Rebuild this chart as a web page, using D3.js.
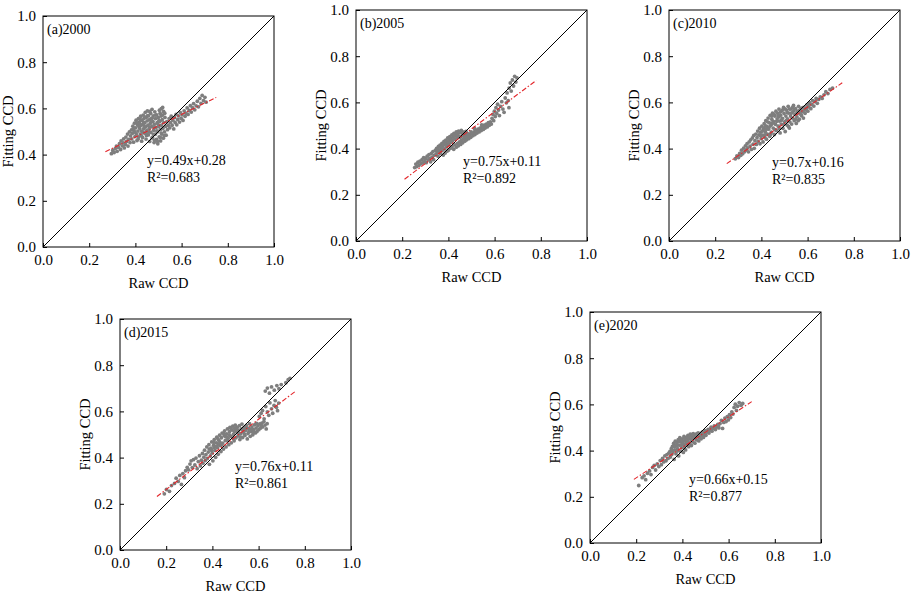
<!DOCTYPE html>
<html>
<head>
<meta charset="utf-8">
<script src="https://cdn.jsdelivr.net/npm/d3@7/dist/d3.min.js"></script>
<style>
  html, body { margin: 0; padding: 0; background: #fff; }
  svg { display: block; }
  text { font-family: "Liberation Serif", "Times New Roman", serif; fill: #000; }
</style>
</head>
<body>
<svg id="chart" width="913" height="594"></svg>
<script>
// ---------------- DATA ----------------
const panelLabels = ["(a)2000", "(b)2005", "(c)2010", "(d)2015", "(e)2020"];
const tickValues = [0, 0.2, 0.4, 0.6, 0.8, 1.0];
const xTitle = "Raw CCD";
const yTitle = "Fitting CCD";
const slopes = [0.49, 0.75, 0.7, 0.76, 0.66];
const intercepts = [0.28, 0.11, 0.16, 0.11, 0.15];
const equations = ["y=0.49x+0.28", "y=0.75x+0.11", "y=0.7x+0.16", "y=0.76x+0.11", "y=0.66x+0.15"];
const r2Labels = ["R\u00B2=0.683", "R\u00B2=0.892", "R\u00B2=0.835", "R\u00B2=0.861", "R\u00B2=0.877"];
const fitRanges = [[0.27, 0.75], [0.21, 0.78], [0.25, 0.75], [0.16, 0.76], [0.19, 0.70]];

const points2000 = [
[0.296,0.404],[0.302,0.418],[0.308,0.409],[0.313,0.426],[0.318,0.437],[0.321,0.414],[0.327,0.431],[0.331,0.447],[0.336,0.422],[0.338,0.459],
[0.343,0.438],[0.347,0.451],[0.349,0.468],[0.352,0.429],[0.357,0.444],[0.359,0.476],[0.362,0.457],[0.366,0.489],[0.368,0.437],[0.371,0.466],
[0.374,0.498],[0.377,0.452],[0.379,0.481],
[0.383,0.507],[0.384,0.468],[0.387,0.492],[0.389,0.523],[0.392,0.454],[0.394,0.503],[0.396,0.536],[0.398,0.478],[0.401,0.516],[0.403,0.549],
[0.404,0.489],[0.407,0.461],[0.409,0.528],[0.411,0.502],[0.413,0.556],[0.414,0.477],[0.417,0.541],[0.419,0.513],[0.421,0.489],[0.423,0.566],
[0.424,0.527],[0.427,0.502],[0.429,0.548],[0.431,0.474],[0.432,0.531],[0.434,0.571],[0.436,0.512],[0.437,0.556],[0.439,0.493],[0.441,0.538],
[0.443,0.583],[0.444,0.519],[0.446,0.467],[0.447,0.561],[0.449,0.504],[0.451,0.546],[0.452,0.589],[0.454,0.527],[0.456,0.485],[0.457,0.568],
[0.459,0.512],[0.461,0.551],[0.462,0.457],[0.464,0.534],[0.466,0.579],[0.467,0.496],[0.469,0.556],[0.471,0.521],[0.472,0.596],[0.474,0.474],
[0.476,0.543],[0.477,0.568],[0.479,0.505],[0.481,0.452],[0.482,0.531],[0.484,0.585],[0.486,0.488],[0.487,0.556],[0.489,0.517],[0.491,0.466],
[0.492,0.572],[0.494,0.538],[0.496,0.499],[0.497,0.447],[0.499,0.561],[0.501,0.521],[0.503,0.477],[0.504,0.592],[0.506,0.544],[0.508,0.508],
[0.509,0.459],[0.511,0.567],[0.513,0.527],[0.514,0.489],[0.516,0.551],[0.518,0.604],[0.519,0.513],[0.521,0.471],[0.523,0.538],[0.526,0.498],
[0.528,0.561],[0.531,0.522],[0.533,0.484],[0.427,0.458],[0.418,0.535],[0.446,0.491],
[0.392,0.512],[0.398,0.497],[0.405,0.538],[0.412,0.467],[0.416,0.521],[0.422,0.551],[0.426,0.482],[0.433,0.497],[0.438,0.524],[0.442,0.562],
[0.448,0.483],[0.453,0.569],[0.458,0.498],[0.463,0.519],[0.468,0.542],[0.473,0.558],[0.478,0.487],[0.483,0.518],[0.488,0.571],[0.493,0.503],
[0.498,0.531],[0.502,0.548],[0.507,0.579],[0.512,0.493],[0.517,0.571],[0.522,0.587],[0.527,0.579],[0.483,0.462],[0.472,0.472],[0.495,0.458],
[0.508,0.474],[0.525,0.482],[0.436,0.538],[0.462,0.587],[0.512,0.599],
[0.536,0.543],[0.539,0.508],[0.542,0.527],[0.546,0.556],[0.549,0.516],[0.552,0.538],[0.555,0.566],[0.559,0.527],[0.562,0.549],[0.566,0.511],
[0.569,0.561],[0.572,0.539],[0.576,0.574],[0.579,0.529],[0.583,0.552],[0.587,0.568],[0.591,0.541],[0.594,0.583],[0.598,0.557],[0.602,0.572],
[0.606,0.548],[0.611,0.589],[0.615,0.566],[0.619,0.579],[0.624,0.602],[0.628,0.574],[0.633,0.591],[0.638,0.612],[0.642,0.584],[0.647,0.603],
[0.652,0.621],[0.657,0.594],[0.663,0.611],[0.668,0.631],[0.673,0.607],[0.679,0.643],[0.684,0.622],[0.689,0.656],[0.695,0.634],[0.701,0.648],
[0.706,0.627]
];

const points2005 = [
[0.254,0.318],[0.259,0.333],[0.263,0.322],[0.268,0.341],[0.272,0.327],[0.277,0.346],[0.281,0.334],[0.286,0.352],[0.289,0.338],[0.293,0.361],
[0.297,0.344],[0.301,0.356],[0.304,0.339],[0.308,0.367],[0.312,0.351],[0.316,0.374],[0.319,0.358],[0.323,0.343],[0.326,0.379],[0.329,0.363],
[0.333,0.387],[0.336,0.352],[0.339,0.371],
[0.343,0.392],[0.346,0.376],[0.349,0.401],[0.352,0.384],[0.355,0.367],[0.357,0.409],[0.361,0.391],[0.364,0.415],[0.366,0.378],[0.369,0.402],
[0.372,0.423],[0.375,0.394],[0.377,0.412],[0.381,0.431],[0.383,0.399],[0.386,0.421],[0.389,0.437],[0.392,0.408],[0.394,0.428],[0.397,0.446],
[0.401,0.417],[0.403,0.436],[0.406,0.452],[0.409,0.426],[0.412,0.443],[0.415,0.459],[0.418,0.434],[0.421,0.451],[0.424,0.466],[0.427,0.441],
[0.431,0.458],[0.434,0.472],[0.437,0.447],[0.441,0.464],[0.444,0.476],[0.448,0.453],[0.452,0.469],[0.456,0.479],[0.461,0.458],[0.466,0.471],
[0.471,0.461],[0.476,0.474],[0.405,0.441],[0.372,0.406],
[0.356,0.396],[0.368,0.389],[0.379,0.418],[0.391,0.421],[0.402,0.429],[0.414,0.431],[0.426,0.456],[0.438,0.459],[0.451,0.448],[0.459,0.471],
[0.468,0.452],[0.478,0.461],[0.489,0.452],[0.498,0.472],[0.509,0.466],[0.521,0.471],[0.531,0.481],[0.541,0.489],[0.552,0.494],[0.562,0.499],
[0.572,0.503],[0.581,0.509],
[0.378,0.372],[0.386,0.381],[0.394,0.389],[0.401,0.394],[0.409,0.402],[0.416,0.408],[0.423,0.397],[0.428,0.416],[0.434,0.406],[0.439,0.423],
[0.443,0.412],[0.448,0.429],[0.453,0.418],[0.457,0.436],[0.462,0.425],[0.466,0.443],[0.471,0.432],[0.475,0.448],[0.479,0.438],[0.484,0.454],
[0.488,0.443],[0.492,0.461],[0.497,0.449],[0.501,0.466],[0.506,0.456],[0.511,0.472],[0.515,0.461],[0.519,0.478],[0.524,0.467],[0.528,0.484],
[0.533,0.472],[0.537,0.489],[0.542,0.478],[0.546,0.494],[0.551,0.483],[0.555,0.501],[0.559,0.489],[0.564,0.506],[0.568,0.494],[0.573,0.512],
[0.577,0.501],[0.582,0.516],[0.586,0.506],[0.482,0.466],[0.513,0.487],[0.544,0.503],
[0.589,0.531],[0.593,0.548],[0.596,0.521],[0.599,0.562],[0.603,0.539],[0.606,0.577],[0.609,0.553],[0.613,0.592],[0.617,0.567],[0.621,0.543],
[0.626,0.583],[0.631,0.603],[0.636,0.571],[0.641,0.557],[0.646,0.619],[0.651,0.598],[0.654,0.641],[0.659,0.608],[0.663,0.662],[0.668,0.684],
[0.672,0.649],[0.677,0.697],[0.682,0.671],[0.687,0.713],[0.692,0.688],[0.697,0.706],[0.662,0.577]
];

const points2010 = [
[0.287,0.356],[0.294,0.368],[0.301,0.361],[0.306,0.379],[0.311,0.371],[0.314,0.393],[0.319,0.378],[0.323,0.402],[0.327,0.386],[0.331,0.412],
[0.334,0.394],[0.338,0.421],[0.341,0.403],[0.344,0.386],[0.347,0.429],[0.351,0.411],[0.354,0.438],[0.357,0.397],[0.361,0.446],[0.364,0.419],
[0.367,0.457],[0.369,0.401],[0.372,0.434],
[0.376,0.463],[0.378,0.418],[0.381,0.447],[0.384,0.476],[0.386,0.431],[0.389,0.459],[0.392,0.488],[0.394,0.421],[0.397,0.471],[0.399,0.443],
[0.402,0.497],[0.405,0.458],[0.407,0.429],[0.409,0.484],[0.412,0.508],[0.414,0.449],[0.417,0.472],[0.419,0.521],[0.422,0.441],[0.424,0.496],
[0.426,0.463],[0.429,0.532],[0.431,0.484],[0.434,0.512],[0.436,0.453],[0.438,0.544],[0.441,0.501],[0.443,0.471],[0.445,0.527],[0.448,0.553],
[0.451,0.489],[0.453,0.517],[0.456,0.461],[0.458,0.541],[0.461,0.505],[0.463,0.562],[0.465,0.478],[0.468,0.529],[0.471,0.552],[0.473,0.497],
[0.476,0.571],[0.478,0.519],[0.481,0.468],[0.483,0.544],[0.486,0.506],[0.488,0.563],[0.491,0.531],[0.493,0.488],[0.496,0.578],[0.498,0.552],
[0.501,0.516],[0.503,0.474],[0.506,0.541],[0.508,0.567],[0.511,0.502],[0.513,0.529],[0.516,0.583],[0.518,0.554],[0.521,0.489],[0.523,0.516],
[0.526,0.541],[0.528,0.571],[0.531,0.506],[0.534,0.532],[0.536,0.558],[0.539,0.587],[0.542,0.521],[0.545,0.547],[0.548,0.573],[0.551,0.509],
[0.554,0.537],[0.557,0.562],[0.561,0.583],[0.564,0.527],[0.567,0.551],[0.571,0.573],[0.574,0.542],[0.578,0.561],[0.582,0.532],[0.585,0.578],
[0.589,0.553],[0.593,0.571],[0.597,0.589],[0.601,0.562],[0.605,0.581],[0.609,0.599],[0.614,0.573],[0.618,0.591],[0.622,0.608],[0.627,0.584],
[0.632,0.603],[0.637,0.617],[0.642,0.596],[0.648,0.613],[0.446,0.508],[0.476,0.537],[0.418,0.498],
[0.396,0.456],[0.404,0.476],[0.411,0.488],[0.416,0.459],[0.421,0.484],[0.427,0.516],[0.433,0.492],[0.439,0.462],[0.444,0.541],[0.449,0.512],
[0.455,0.549],[0.459,0.482],[0.466,0.518],[0.472,0.541],[0.477,0.487],[0.482,0.558],[0.487,0.523],[0.492,0.568],[0.497,0.505],[0.502,0.572],
[0.507,0.521],[0.512,0.556],[0.517,0.496],[0.522,0.571],[0.529,0.553],[0.535,0.578],[0.541,0.564],[0.547,0.527],[0.553,0.552],[0.559,0.521],
[0.566,0.566],[0.572,0.548],[0.579,0.577],[0.587,0.567],[0.595,0.575],[0.603,0.592],
[0.655,0.624],[0.663,0.617],[0.671,0.633],[0.679,0.646],[0.688,0.638],[0.697,0.656],[0.708,0.662]
];

const points2015 = [
[0.192,0.243],[0.201,0.262],[0.214,0.254],[0.223,0.279],[0.236,0.288],[0.243,0.311],[0.252,0.297],[0.259,0.323],[0.266,0.284],[0.272,0.331],
[0.279,0.313],[0.284,0.343],[0.291,0.358],[0.297,0.347],[0.303,0.372],[0.308,0.386],[0.313,0.357],[0.318,0.391],[0.324,0.368],[0.329,0.398],
[0.334,0.352],[0.339,0.383],[0.344,0.408],[0.348,0.364],[0.352,0.389],
[0.357,0.418],[0.359,0.376],[0.363,0.402],[0.366,0.432],[0.369,0.387],[0.372,0.413],[0.376,0.446],[0.378,0.396],[0.382,0.424],[0.385,0.456],
[0.387,0.371],[0.391,0.407],[0.394,0.441],[0.397,0.468],[0.399,0.419],[0.402,0.386],[0.405,0.453],[0.408,0.478],[0.411,0.431],[0.414,0.401],
[0.417,0.464],[0.419,0.488],[0.422,0.443],[0.425,0.414],[0.428,0.475],[0.431,0.497],[0.434,0.452],[0.437,0.426],[0.439,0.486],[0.442,0.506],
[0.445,0.463],[0.448,0.437],[0.451,0.495],[0.453,0.516],[0.456,0.474],[0.459,0.446],[0.462,0.503],[0.465,0.524],[0.468,0.483],[0.471,0.456],
[0.474,0.512],[0.476,0.531],[0.479,0.492],[0.482,0.464],[0.485,0.519],[0.488,0.536],[0.491,0.501],[0.494,0.473],[0.497,0.526],[0.499,0.541],
[0.502,0.486],[0.505,0.511],[0.508,0.532],[0.511,0.494],[0.514,0.518],[0.517,0.538],[0.519,0.478],[0.522,0.503],[0.525,0.524],[0.528,0.545],
[0.531,0.487],[0.534,0.511],[0.537,0.531],[0.541,0.496],[0.544,0.518],[0.547,0.539],[0.551,0.481],[0.554,0.504],[0.557,0.526],[0.561,0.547],
[0.564,0.492],[0.568,0.513],[0.571,0.533],[0.575,0.499],[0.578,0.521],[0.582,0.542],[0.586,0.507],[0.589,0.528],[0.593,0.513],[0.597,0.537],
[0.601,0.521],[0.605,0.546],[0.609,0.528],[0.614,0.549],[0.618,0.533],[0.623,0.556],[0.628,0.541],[0.633,0.524],[0.637,0.547],[0.426,0.457],
[0.463,0.489],[0.408,0.444],
[0.386,0.437],[0.397,0.431],[0.406,0.466],[0.416,0.448],[0.424,0.481],[0.433,0.466],[0.441,0.455],[0.449,0.506],[0.457,0.491],[0.466,0.472],
[0.473,0.498],[0.481,0.524],[0.489,0.484],[0.496,0.513],[0.504,0.527],[0.512,0.507],[0.521,0.489],[0.529,0.521],[0.538,0.503],[0.548,0.528],
[0.558,0.512],[0.569,0.522],[0.579,0.511],[0.591,0.548],[0.612,0.538],
[0.603,0.578],[0.611,0.592],[0.617,0.604],[0.624,0.568],[0.631,0.621],[0.638,0.598],[0.644,0.583],[0.649,0.637],[0.656,0.611],[0.661,0.592],
[0.667,0.626],[0.672,0.647],[0.677,0.618],[0.682,0.603],[0.687,0.636],[0.629,0.688],[0.638,0.701],[0.647,0.679],[0.656,0.706],[0.668,0.692],
[0.679,0.712],[0.688,0.698],[0.698,0.716],[0.718,0.724],[0.728,0.737],[0.736,0.743]
];

const points2020 = [
[0.211,0.249],[0.226,0.283],[0.234,0.291],[0.241,0.274],[0.249,0.302],[0.258,0.312],[0.264,0.296],[0.271,0.327],[0.278,0.336],[0.284,0.316],
[0.291,0.342],[0.298,0.331],[0.304,0.357],[0.309,0.339],[0.314,0.366],[0.319,0.351],[0.324,0.377],[0.329,0.356],[0.333,0.383],[0.338,0.366],
[0.341,0.389],
[0.346,0.396],[0.348,0.372],[0.352,0.408],[0.354,0.383],[0.357,0.418],[0.359,0.394],[0.362,0.431],[0.364,0.362],[0.367,0.403],[0.369,0.441],
[0.372,0.386],[0.374,0.421],[0.377,0.436],[0.379,0.408],[0.382,0.447],[0.384,0.377],[0.387,0.423],[0.389,0.456],[0.392,0.397],[0.394,0.437],
[0.397,0.412],[0.399,0.451],[0.402,0.431],[0.404,0.392],[0.407,0.461],[0.409,0.422],[0.412,0.442],[0.414,0.403],[0.417,0.456],[0.419,0.428],
[0.422,0.443],[0.424,0.466],[0.427,0.417],[0.429,0.452],[0.432,0.433],[0.434,0.471],[0.437,0.447],[0.439,0.422],[0.442,0.462],[0.445,0.438],
[0.447,0.473],[0.451,0.452],[0.454,0.432],[0.457,0.467],[0.461,0.446],[0.464,0.461],[0.468,0.477],[0.471,0.442],[0.474,0.457],[0.477,0.472],
[0.481,0.451],[0.484,0.466],[0.487,0.481],[0.491,0.457],[0.494,0.471],[0.498,0.486],[0.502,0.466],[0.506,0.481],[0.511,0.492],[0.515,0.476],
[0.519,0.489],[0.524,0.501],[0.528,0.484],[0.533,0.496],[0.538,0.507],[0.543,0.491],[0.548,0.503],[0.553,0.513],[0.558,0.498],[0.416,0.432],
[0.443,0.449],[0.396,0.424],[0.378,0.398],
[0.356,0.401],[0.366,0.417],[0.376,0.429],[0.386,0.439],[0.393,0.446],[0.401,0.441],[0.411,0.452],[0.421,0.459],[0.431,0.462],[0.441,0.469],
[0.451,0.463],[0.461,0.472],[0.471,0.469],[0.481,0.476],[0.491,0.474],[0.501,0.479],[0.513,0.486],[0.526,0.493],[0.541,0.499],[0.556,0.507],
[0.409,0.411],[0.426,0.426],[0.448,0.456],
[0.563,0.517],[0.569,0.531],[0.574,0.496],[0.579,0.522],[0.584,0.541],[0.589,0.526],[0.594,0.547],[0.599,0.533],[0.604,0.556],[0.609,0.543],
[0.614,0.568],[0.619,0.558],[0.624,0.587],[0.629,0.601],[0.634,0.574],[0.639,0.592],[0.646,0.608],[0.654,0.596],[0.661,0.604]
];

const pointSets = [points2000, points2005, points2010, points2015, points2020];

// ---------------- LAYOUT ----------------
const layout = [
  { left: 43,  top: 16,  eqX: 104, eqY: 149 },
  { left: 356, top: 10,  eqX: 107, eqY: 156 },
  { left: 669, top: 10,  eqX: 103, eqY: 157 },
  { left: 120, top: 319, eqX: 115, eqY: 152 },
  { left: 590, top: 312, eqX: 99,  eqY: 172 }
];
const size = 231;
const FONT = '"Liberation Serif", "Times New Roman", serif';

const svg = d3.select("#chart");

layout.forEach((L, i) => {
  const g = svg.append("g").attr("transform", `translate(${L.left},${L.top})`);
  const x = d3.scaleLinear().domain([0, 1]).range([0, size]);
  const y = d3.scaleLinear().domain([0, 1]).range([size, 0]);

  const clipId = "clip" + i;
  g.append("clipPath").attr("id", clipId)
    .append("rect").attr("width", size).attr("height", size);

  const plot = g.append("g").attr("clip-path", `url(#${clipId})`);

  plot.selectAll("circle").data(pointSets[i]).join("circle")
    .attr("cx", d => x(d[0]))
    .attr("cy", d => y(d[1]))
    .attr("r", 1.9)
    .attr("fill", "#7e7e7e");

  plot.append("line")
    .attr("x1", x(0)).attr("y1", y(0))
    .attr("x2", x(1)).attr("y2", y(1))
    .attr("stroke", "#000").attr("stroke-width", 1);

  const [f0, f1] = fitRanges[i];
  plot.append("line")
    .attr("x1", x(f0)).attr("y1", y(slopes[i] * f0 + intercepts[i]))
    .attr("x2", x(f1)).attr("y2", y(slopes[i] * f1 + intercepts[i]))
    .attr("stroke", "#e3262b").attr("stroke-width", 1.1)
    .attr("stroke-dasharray", "5,2,1.5,2");

  const xAxis = d3.axisBottom(x).tickValues(tickValues).tickFormat(d3.format(".1f"))
    .tickSizeInner(-4).tickSizeOuter(0).tickPadding(7);
  const yAxis = d3.axisLeft(y).tickValues(tickValues).tickFormat(d3.format(".1f"))
    .tickSizeInner(-4).tickSizeOuter(0).tickPadding(7);

  const gx = g.append("g").attr("transform", `translate(0,${size})`).call(xAxis);
  const gy = g.append("g").call(yAxis);
  [gx, gy].forEach(a => {
    a.attr("font-size", 15).attr("font-family", FONT);
    a.selectAll("text").attr("font-size", 15).style("font-size", "15px").style("font-family", FONT).attr("fill", "#000");
    a.selectAll("line").attr("stroke", "#000");
    a.select(".domain").remove();
  });

  g.append("rect").attr("width", size).attr("height", size)
    .attr("fill", "none").attr("stroke", "#000").attr("stroke-width", 1);

  g.append("text").attr("x", size / 2).attr("y", size + 41)
    .attr("text-anchor", "middle").style("font-size", "14.5px").text(xTitle);
  g.append("text")
    .attr("transform", `translate(-30,${size / 2}) rotate(-90)`)
    .attr("text-anchor", "middle").style("font-size", "14.5px").text(yTitle);

  g.append("text").attr("x", 4).attr("y", 18).style("font-size", "14px").text(panelLabels[i]);

  g.append("text").attr("x", L.eqX).attr("y", L.eqY).style("font-size", "14px").text(equations[i]);
  g.append("text").attr("x", L.eqX).attr("y", L.eqY + 17).style("font-size", "14px").text(r2Labels[i]);
});
</script>
</body>
</html>
